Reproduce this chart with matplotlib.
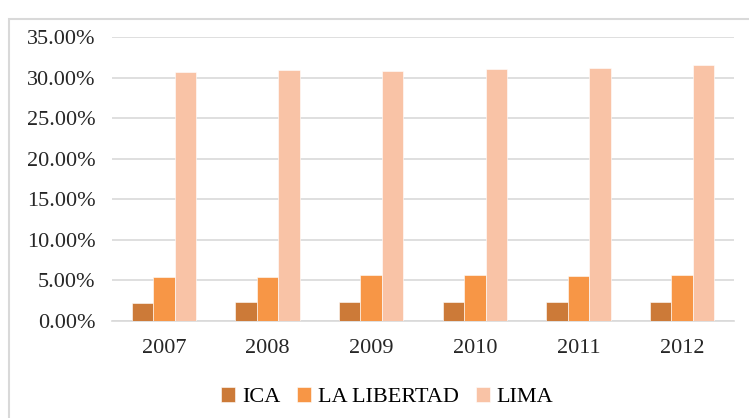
import numpy as np
import matplotlib.pyplot as plt
from matplotlib.patches import Rectangle
from matplotlib.ticker import FuncFormatter

anios = ['2007', '2008', '2009', '2010', '2011', '2012']
ica = [2.26, 2.38, 2.38, 2.38, 2.38, 2.38]
la_libertad = [5.47, 5.47, 5.71, 5.71, 5.59, 5.71]
lima = [30.66, 30.91, 30.78, 31.03, 31.16, 31.56]

series = [
    ('ICA', ica, '#CC7A38'),
    ('LA LIBERTAD', la_libertad, '#F79646'),
    ('LIMA', lima, '#F9C3A6'),
]

plt.rcParams['font.family'] = ['Liberation Serif', 'DejaVu Serif']

fig = plt.figure(figsize=(7.49, 4.18), dpi=100)
ax = fig.add_axes([0.1495, 0.232, 0.8305, 0.679])

x = np.arange(len(anios))
ancho = 0.207
for i, (nombre, valores, color) in enumerate(series):
    ax.bar(x + (i - 1) * ancho, valores, width=ancho, color=color,
           edgecolor='white', linewidth=0.4, label=nombre, zorder=3)

ax.set_ylim(0, 35)
ax.set_xlim(-0.5, len(anios) - 0.5)
ax.set_yticks(np.arange(0, 35.1, 5))
ax.yaxis.set_major_formatter(FuncFormatter(lambda v, p: f'{v:.2f}%'))
ax.set_xticks(x)
ax.set_xticklabels(anios)
ax.tick_params(axis='both', length=0, labelsize=16, colors='#262626')
ax.tick_params(axis='y', pad=12)
ax.tick_params(axis='x', pad=13)
ax.grid(axis='y', color='#D9D9D9', linewidth=1.2, zorder=0)
for lado in ['top', 'right', 'left']:
    ax.spines[lado].set_visible(False)
ax.spines['bottom'].set_color('#D9D9D9')
ax.spines['bottom'].set_linewidth(1.2)

fig.legend(loc='center', bbox_to_anchor=(0.517, 0.05), ncol=3, frameon=False,
           fontsize=16, handlelength=0.65, handleheight=0.65, handletextpad=0.3,
           columnspacing=0.75)

# marco gris del grafico original
marco = Rectangle((9 / 749, -0.05), 1.1, 1 - 19 / 418 + 0.05,
                  transform=fig.transFigure, fill=False,
                  edgecolor='#D9D9D9', linewidth=1.5, clip_on=False)
fig.patches.append(marco)

fig.savefig('out.png', dpi=100)
